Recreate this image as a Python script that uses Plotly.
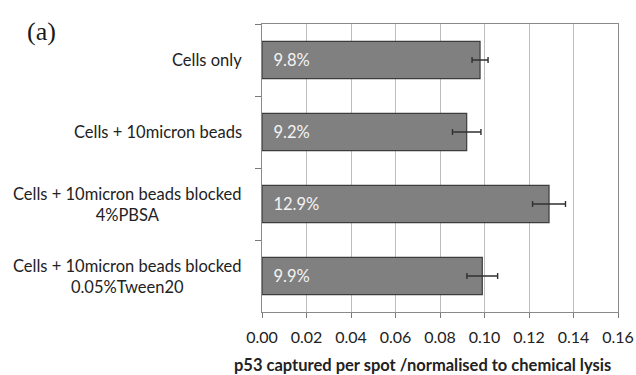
import plotly.graph_objects as go

categories = [
    "Cells only",
    "Cells + 10micron beads",
    "Cells + 10micron beads blocked<br>4%PBSA",
    "Cells + 10micron beads blocked<br>0.05%Tween20",
]
values = [0.098, 0.092, 0.129, 0.099]
errors = [0.0036, 0.0064, 0.0074, 0.0069]
x_ticks = [0.00, 0.02, 0.04, 0.06, 0.08, 0.10, 0.12, 0.14, 0.16]
x_title = "p53 captured per spot /normalised to chemical lysis"
panel_label = "(a)"

font_main = "Lato, 'Open Sans', sans-serif"

L, R, T, B = 262, 618, 24, 312
PW, PH = R - L, B - T

fig = go.Figure()
fig.add_trace(go.Bar(
    y=categories,
    x=values,
    orientation="h",
    width=0.52,
    marker=dict(color="#808080", line=dict(color="#3c3c3c", width=1.2)),
    error_x=dict(type="data", array=errors, color="#303030", thickness=1.4, width=3),
    texttemplate="\u00a0\u00a0%{x:.1%}",
    textposition="inside",
    insidetextanchor="start",
    textfont=dict(family=font_main, size=16.5, color="#f4f4f4"),
    cliponaxis=False,
    hoverinfo="skip",
))

# category labels as centered multi-line annotations
for cat in categories:
    fig.add_annotation(
        x=0, xref="paper", xanchor="right", xshift=-18,
        y=cat, yref="y", yanchor="middle",
        text=cat, showarrow=False, align="center",
        font=dict(family=font_main, size=16.5, color="#222222"),
    )

fig.add_annotation(
    x=(422 - L) / PW, xref="paper", y=0, yref="paper",
    text="<b>" + x_title + "</b>", showarrow=False,
    xanchor="center", yanchor="middle", yshift=-53,
    font=dict(family=font_main, size=16.5, color="#222222"),
)

fig.add_annotation(
    x=(25 - L) / PW, y=(B - 31) / PH, xref="paper", yref="paper",
    text=panel_label, showarrow=False, xanchor="left", yanchor="middle",
    font=dict(family="'Liberation Serif', serif", size=26, color="#1a1a1a"),
)

fig.update_layout(
    width=636, height=375,
    margin=dict(l=L, r=636 - R, t=T, b=375 - B, autoexpand=False),
    paper_bgcolor="white", plot_bgcolor="white",
    showlegend=False,
    xaxis=dict(
        range=[0, 0.16], tickvals=x_ticks, tickformat=".2f",
        showgrid=True, gridcolor="#bdbdbd", gridwidth=1,
        ticks="outside", ticklen=5, tickcolor="#7a7a7a",
        showline=True, linecolor="#8a8a8a", linewidth=1, mirror=True,
        tickfont=dict(family=font_main, size=16, color="#222222"),
        ticklabelstandoff=6,
        zeroline=False, automargin=False,
    ),
    yaxis=dict(
        type="category", autorange="reversed",
        tickson="boundaries", ticks="outside", ticklen=6, tickcolor="#7a7a7a",
        showticklabels=False,
        showline=True, linecolor="#8a8a8a", linewidth=1, mirror=True,
        showgrid=False, automargin=False,
    ),
)

fig.write_html(
    "out.html",
    config={"displayModeBar": False},
    post_script="document.body.style.margin='0px';",
)
